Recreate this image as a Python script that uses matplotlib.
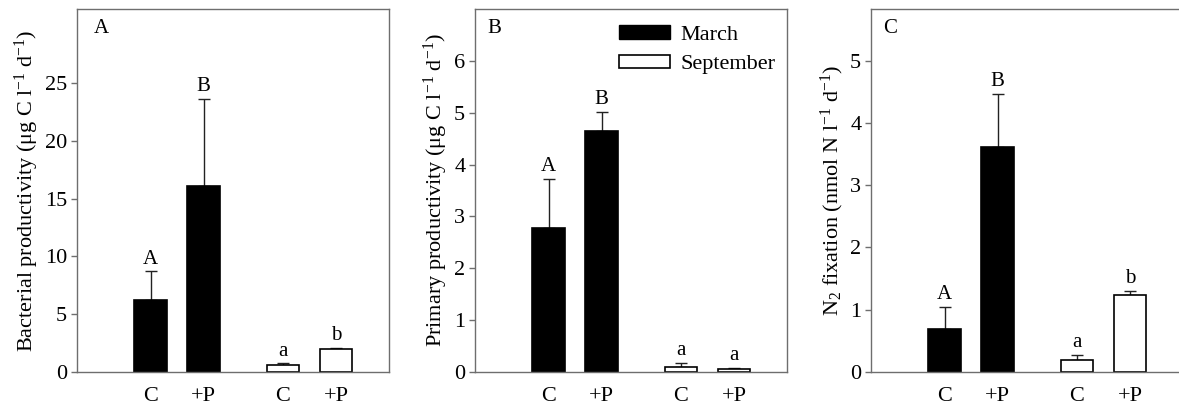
import matplotlib
matplotlib.use("Agg")
import matplotlib.pyplot as plt
from matplotlib.patches import Patch

plt.rcParams['font.family'] = ['Liberation Serif', 'DejaVu Serif']
plt.rcParams['mathtext.fontset'] = 'custom'
plt.rcParams['mathtext.rm'] = 'Liberation Serif'
plt.rcParams['mathtext.it'] = 'Liberation Serif:italic'
plt.rcParams['mathtext.bf'] = 'Liberation Serif:bold'

# ---------------- data ----------------
tick_labels = ["C", "+P", "C", "+P"]
months = ["March", "March", "September", "September"]

bp_values = [6.2, 16.05, 0.6, 1.95]
bp_errors = [2.5, 7.55, 0.15, 0.15]
bp_letters = ["A", "B", "a", "b"]

pp_values = [2.78, 4.65, 0.10, 0.05]
pp_errors = [0.95, 0.37, 0.07, 0.03]
pp_letters = ["A", "B", "a", "a"]

nf_values = [0.69, 3.61, 0.20, 1.23]
nf_errors = [0.35, 0.86, 0.07, 0.07]
nf_letters = ["A", "B", "a", "b"]

panels = [
    dict(tag="A", values=bp_values, errors=bp_errors, letters=bp_letters,
         ylabel=r"Bacterial productivity (μg C l$^{-1}$ d$^{-1}$)",
         ylim=31.4, yticks=[0, 5, 10, 15, 20, 25], left=77, tagx=0.055),
    dict(tag="B", values=pp_values, errors=pp_errors, letters=pp_letters,
         ylabel=r"Primary productivity (μg C l$^{-1}$ d$^{-1}$)",
         ylim=7.0, yticks=[0, 1, 2, 3, 4, 5, 6], left=475, tagx=0.04),
    dict(tag="C", values=nf_values, errors=nf_errors, letters=nf_letters,
         ylabel=r"N$_2$ fixation (nmol N l$^{-1}$ d$^{-1}$)",
         ylim=5.83, yticks=[0, 1, 2, 3, 4, 5], left=871, tagx=0.04),
]

positions = [1, 2, 3.5, 4.5]
colors = {"March": "black", "September": "white"}
spine_color = "#6e6e6e"
FS = 16

W, H = 1179, 409
fig = plt.figure(figsize=(W / 100, H / 100), dpi=100)

for p in panels:
    ax = fig.add_axes([p["left"] / W, 1 - 372 / H, 312 / W, 363 / H])
    fc = [colors[m] for m in months]
    ax.bar(positions, p["values"], width=0.62, color=fc, edgecolor="black",
           linewidth=1.2, zorder=2)
    ax.errorbar(positions, p["values"],
                yerr=[[0] * len(p["values"]), p["errors"]],
                fmt="none", ecolor="#222222", elinewidth=1.0,
                capsize=4.5, capthick=1.0, zorder=1)
    for x, v, e, l in zip(positions, p["values"], p["errors"], p["letters"]):
        ax.annotate(l, (x, v + e), xytext=(0, 2), textcoords="offset points",
                    ha="center", va="bottom", fontsize=15)
    ax.set_xlim(-0.39, 5.5)
    ax.set_ylim(0, p["ylim"])
    ax.set_yticks(p["yticks"])
    ax.set_xticks(positions)
    ax.set_xticklabels(tick_labels, fontsize=FS)
    ax.tick_params(axis="x", length=0, pad=11)
    ax.tick_params(axis="y", direction="out", length=4, width=1.0,
                   color=spine_color, labelsize=FS, pad=3)
    for s in ax.spines.values():
        s.set_color(spine_color)
        s.set_linewidth(1.0)
    ax.set_ylabel(p["ylabel"], fontsize=FS, labelpad=3)
    ax.text(p["tagx"], 0.945, p["tag"], transform=ax.transAxes, fontsize=15,
            ha="left", va="center")
    if p["tag"] == "B":
        handles = [Patch(facecolor="black", edgecolor="black", label="March"),
                   Patch(facecolor="white", edgecolor="black", linewidth=1.2,
                         label="September")]
        ax.legend(handles=handles, loc="upper left", bbox_to_anchor=(0.46, 0.955),
                  frameon=False, fontsize=FS, handlelength=2.3,
                  handleheight=0.55, handletextpad=0.5, labelspacing=0.45,
                  borderaxespad=0, borderpad=0)

fig.savefig("out.png", dpi=100)
